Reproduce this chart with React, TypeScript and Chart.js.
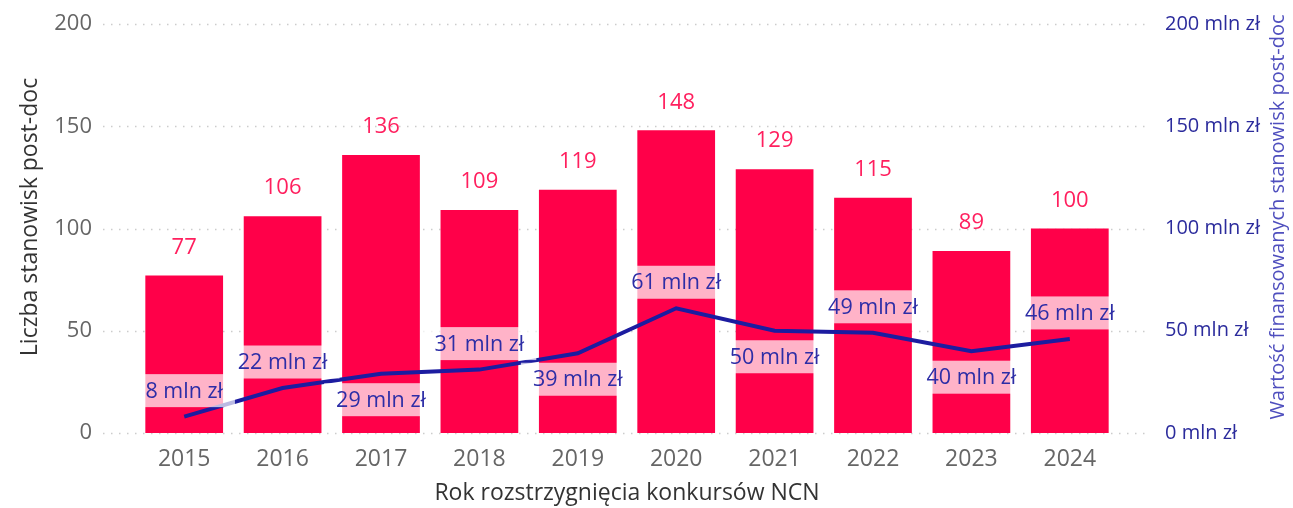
import React, { useEffect, useRef } from "react";
import { Chart, registerables } from "chart.js";

Chart.register(...registerables);

const years = ["2015", "2016", "2017", "2018", "2019", "2020", "2021", "2022", "2023", "2024"];
const positions = [77, 106, 136, 109, 119, 148, 129, 115, 89, 100];
const funding = [8, 22, 29, 31, 39, 61, 50, 49, 40, 46];
const leftTicks = [0, 50, 100, 150, 200];
const fundingLabelSide = ["above", "above", "below", "above", "below", "above", "below", "above", "below", "above"];

const FONT = "'Open Sans', 'Noto Sans', sans-serif";
const BAR_COLOR = "#FF0049";
const BAR_LABEL_COLOR = "#FF1F5E";
const LINE_COLOR = "#1C1CA0";
const LINE_LABEL_COLOR = "#2D2DA6";

const overlayPlugin = {
  id: "overlay",
  beforeDatasetsDraw(chart: any) {
    const ctx = chart.ctx;
    const y = chart.scales.y;
    ctx.save();
    ctx.strokeStyle = "#cccccc";
    ctx.lineWidth = 1.5;
    ctx.setLineDash([1.5, 6.5]);
    for (const v of leftTicks) {
      const py = Math.round(y.getPixelForValue(v)) + 0.5;
      ctx.beginPath();
      ctx.moveTo(103, py);
      ctx.lineTo(1150, py);
      ctx.stroke();
    }
    ctx.restore();
  },
  afterDatasetsDraw(chart: any) {
    const ctx = chart.ctx;
    const barMeta = chart.getDatasetMeta(1);
    const lineMeta = chart.getDatasetMeta(0);
    ctx.save();
    ctx.font = `22px ${FONT}`;
    ctx.fillStyle = BAR_LABEL_COLOR;
    ctx.textAlign = "center";
    ctx.textBaseline = "middle";
    barMeta.data.forEach((el: any, i: number) => {
      ctx.fillText(String(positions[i]), el.x, el.y - 28);
    });
    ctx.font = `21.5px ${FONT}`;
    lineMeta.data.forEach((el: any, i: number) => {
      const text = `${funding[i]} mln zł`;
      const cy = fundingLabelSide[i] === "above" ? el.y - 26 : el.y + 26;
      const w = ctx.measureText(text).width + 24;
      ctx.fillStyle = "rgba(255,255,255,0.7)";
      ctx.fillRect(el.x - w / 2, cy - 16.5, w, 33);
      ctx.fillStyle = LINE_LABEL_COLOR;
      ctx.fillText(text, el.x, cy + 1);
    });
    ctx.restore();
  },
  afterDraw(chart: any) {
    const ctx = chart.ctx;
    ctx.save();
    ctx.textAlign = "center";
    ctx.textBaseline = "middle";
    ctx.font = `23px ${FONT}`;
    ctx.fillStyle = "#333333";
    ctx.translate(30, 217);
    ctx.rotate(-Math.PI / 2);
    ctx.fillText("Liczba stanowisk post-doc", 0, 0);
    ctx.restore();
    ctx.save();
    ctx.textAlign = "center";
    ctx.textBaseline = "middle";
    ctx.font = `20px ${FONT}`;
    ctx.fillStyle = "#4F4FBE";
    ctx.translate(1278, 217);
    ctx.rotate(-Math.PI / 2);
    ctx.fillText("Wartość finansowanych stanowisk post-doc", 0, 0);
    ctx.restore();
    ctx.save();
    ctx.textAlign = "center";
    ctx.textBaseline = "middle";
    ctx.font = `23px ${FONT}`;
    ctx.fillStyle = "#333333";
    ctx.fillText("Rok rozstrzygnięcia konkursów NCN", (chart.chartArea.left + chart.chartArea.right) / 2, 493);
    ctx.restore();
  },
};

export default function App() {
  const ref = useRef<HTMLCanvasElement | null>(null);
  useEffect(() => {
    if (!ref.current) return;
    const chart = new Chart(ref.current, {
      type: "bar",
      data: {
        labels: years,
        datasets: [
          {
            type: "line",
            label: "Wartość",
            data: funding,
            yAxisID: "y1",
            borderColor: LINE_COLOR,
            borderWidth: 4,
            pointRadius: 0,
            tension: 0,
            order: 0,
          } as any,
          {
            type: "bar",
            label: "Liczba",
            data: positions,
            yAxisID: "y",
            backgroundColor: BAR_COLOR,
            barPercentage: 0.79,
            categoryPercentage: 1,
            order: 1,
          },
        ],
      },
      options: {
        animation: false,
        responsive: true,
        maintainAspectRatio: false,
        layout: { padding: { top: 24, left: 0, right: 0, bottom: 0 } },
        plugins: { legend: { display: false }, tooltip: { enabled: false } },
        scales: {
          x: {
            grid: { display: false },
            border: { display: false },
            ticks: { color: "#666666", font: { family: FONT, size: 23 }, padding: 5 },
            afterFit(s: any) {
              s.height = 75;
            },
          },
          y: {
            position: "left",
            min: 0,
            max: 200,
            grid: { display: false, drawTicks: true, tickLength: 43, tickColor: "transparent" },
            border: { display: false },
            ticks: { stepSize: 50, color: "#666666", font: { family: FONT, size: 22 }, padding: 0 },
            afterFit(s: any) {
              s.width = 135;
            },
          },
          y1: {
            position: "right",
            min: 0,
            max: 200,
            grid: { display: false, drawTicks: true, tickLength: 46, tickColor: "transparent" },
            border: { display: false },
            ticks: {
              stepSize: 50,
              color: "#2B2B9C",
              font: { family: FONT, size: 20 },
              padding: 0,
              callback: (v: any) => `${v} mln zł`,
            },
            afterFit(s: any) {
              s.width = 174;
            },
          },
        },
      },
      plugins: [overlayPlugin],
    });
    return () => chart.destroy();
  }, []);
  return (
    <div style={{ position: "fixed", left: 0, top: 0, width: 1293, height: 508, background: "#fff" }}>
      <canvas ref={ref} />
    </div>
  );
}
